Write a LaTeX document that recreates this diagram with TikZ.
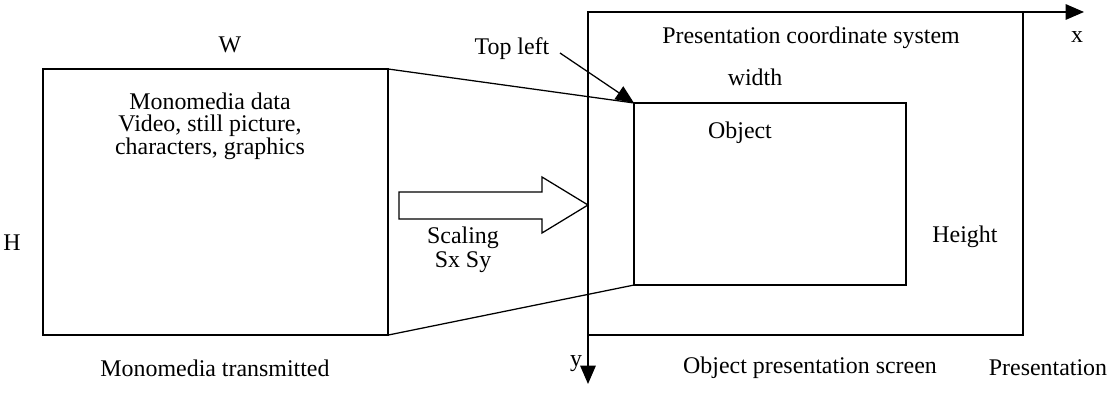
\documentclass[tikz,border=0pt]{standalone}
\usepackage{fontspec}
\setmainfont{Liberation Serif}
\usetikzlibrary{arrows.meta,calc}

\begin{document}
\begin{tikzpicture}[x=0.025cm,y=-0.025cm,line join=miter,line width=0.9pt,>={Triangle[length=13pt,width=11pt]}]
\tikzset{every node/.style={font=\fontsize{17}{16}\selectfont,inner sep=0pt},
  frame/.style={draw,line width=1.1pt,anchor=north west,inner sep=0pt,outer sep=0pt}}
\useasboundingbox (0,0) rectangle (1113,398);
% boxes
\node[frame,minimum width=8.625cm,minimum height=6.65cm] (src) at (43,69) {};
\node[frame,minimum width=10.875cm,minimum height=8.075cm] (scr) at (588,12) {};
\node[frame,minimum width=6.8cm,minimum height=4.55cm] (obj) at (634,103) {};
% labels
\node (W) at (230,45) {W};
\node (H) at (12,243) {H};
\node[align=center] (data) at (210,126) {Monomedia data\\Video, still picture,\\characters, graphics};
\node (trans) at (215,368) {Monomedia transmitted};
\node (topleft) at (512,49) {Top left};
\node (pcs) at (811,38) {Presentation coordinate system};
\node (width) at (755,77) {width};
\node (object) at (740,133) {Object};
\node (height) at (965,237) {Height};
\node[align=center,font=\fontsize{17}{17}\selectfont] (scale) at (463,250) {Scaling\\Sx Sy};
\node (ops) at (810,368) {Object presentation screen};
\node (pres) at (1048,368) {Presentation};
\node (xl) at (1077,37) {x};
\node (yl) at (576,364) {y};
% projection lines
\draw (src.north east) -- (obj.north west);
\draw (src.south east) -- (obj.south west);
% axes
\coordinate (xend) at (1084,12);
\coordinate (yend) at (588,384);
\draw[->] (scr.north east) -- (xend);
\draw[->] (scr.north west) -- (yend);
\coordinate (tlstart) at (560,53);
\draw[->] (tlstart) -- (obj.north west);
% scaling arrow
\draw (399,192) -- (542,192) -- (542,177) -- (588,205) -- (542,233) -- (542,219) -- (399,219) -- cycle;
\end{tikzpicture}
\end{document}
